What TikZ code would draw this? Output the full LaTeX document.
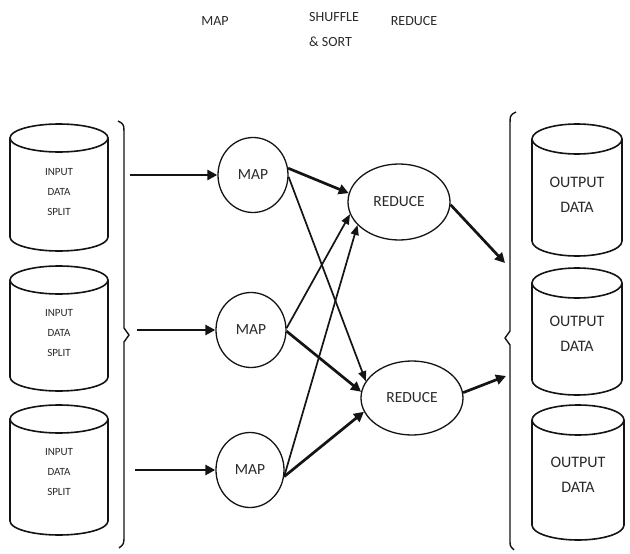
\documentclass[tikz,border=0pt]{standalone}
\usepackage{fontspec}
\setmainfont{Carlito}
\usetikzlibrary{arrows.meta,shapes.geometric}
\definecolor{inkc}{HTML}{141414}
\definecolor{txtc}{HTML}{2A2A2A}
\newcommand{\dbcyl}[5]{%
  \draw[cylline] (#1-#4,#2) -- (#1-#4,#3) arc[start angle=180,end angle=0,x radius=#4,y radius=#5] -- (#1+#4,#2);
  \draw[cylline] (#1,#2) ellipse[x radius=#4,y radius=#5];
}
\tikzset{
  cylline/.style={draw=inkc, line width=1.6pt},
  braceline/.style={draw=inkc, line width=1.4pt, line join=round},
  procnode/.style={ellipse, draw=inkc, line width=1.3pt, inner sep=0pt, text=txtc,
    font=\fontsize{15.5}{18}\selectfont},
  hdr/.style={text=txtc, font=\fontsize{14}{25}\selectfont, inner sep=0pt},
  intext/.style={text=txtc, align=center, font=\fontsize{11}{20}\selectfont, inner sep=0pt},
  outtext/.style={text=txtc, align=center, font=\fontsize{16}{25}\selectfont, inner sep=0pt},
  thickarrow/.style={draw=inkc, line width=2.7pt, -{Triangle[length=10pt,width=10pt]}},
  thinarrow/.style={draw=inkc, line width=1.7pt, -{Triangle[length=10pt,width=8pt]}},
}
\begin{document}
\begin{tikzpicture}[x=1pt,y=-1pt]
\useasboundingbox (0,0) rectangle (630,554);
\fill[white] (0,0) rectangle (630,554);

% headers
\node[hdr] (hmap) at (215,21) {MAP};
\node[hdr, anchor=north west, align=left] (hshuf) at (309,12) {SHUFFLE\\\& SORT};
\node[hdr] (hred) at (414,21) {REDUCE};

% input cylinders
\dbcyl{59}{138}{237}{49}{14}
\dbcyl{59}{280}{377}{49}{14}
\dbcyl{59}{419}{521}{49}{14}
\node[intext] (in1) at (59,192) {INPUT\\DATA\\SPLIT};
\node[intext] (in2) at (59,333) {INPUT\\DATA\\SPLIT};
\node[intext] (in3) at (59,472) {INPUT\\DATA\\SPLIT};

% output cylinders
\dbcyl{577}{139}{241}{45}{15}
\dbcyl{577}{283}{380}{45}{15}
\dbcyl{578}{420}{525}{46}{15}
\node[outtext] (out1) at (577,195) {OUTPUT\\DATA};
\node[outtext] (out2) at (577,334) {OUTPUT\\DATA};
\node[outtext] (out3) at (578,475) {OUTPUT\\DATA};

% braces
\draw[braceline] (118,121) .. controls (124,124) .. (124,136) -- (124,328) -- (129,335) -- (124,342) -- (124,535) .. controls (124,544) .. (119,548);
\draw[braceline] (516,112) .. controls (510,115) .. (510,127) -- (510,331) -- (505,338) -- (510,345) -- (510,540) .. controls (510,546) .. (514,550);

% map and reduce nodes
\node[procnode, minimum width=70pt, minimum height=75pt] (m1) at (253,175) {MAP};
\node[procnode, minimum width=70pt, minimum height=75pt] (m2) at (251,330) {MAP};
\node[procnode, minimum width=68pt, minimum height=75pt] (m3) at (250,470) {MAP};
\node[procnode, minimum width=102pt, minimum height=76pt] (r1) at (399,202) {REDUCE};
\node[procnode, minimum width=102pt, minimum height=74pt] (r2) at (412,398) {REDUCE};

% free ends
\coordinate (b1) at (130,175);
\coordinate (b2) at (137,330);
\coordinate (b3) at (135,470);
\coordinate (o1) at (505,263);
\coordinate (o2) at (506,376);

% input arrows
\draw[thickarrow] (b1) -- (m1.west);
\draw[thickarrow] (b2) -- (m2.west);
\draw[thickarrow] (b3) -- (m3.west);

% shuffle arrows
\draw[thickarrow] (m1.11) -- (r1.170);
\draw[thinarrow] (m1.-3) -- (r2.160);
\draw[thinarrow] (m2.3) -- (r1.194);
\draw[thickarrow] (m2.-2) -- (r2.173);
\draw[thinarrow] (m3.-11) -- (r1.209);
\draw[thickarrow] (m3.-11) -- (r2.196);

% output arrows
\draw[thickarrow] (r1.-3) -- (o1);
\draw[thickarrow] (r2.6) -- (o2);
\end{tikzpicture}
\end{document}
